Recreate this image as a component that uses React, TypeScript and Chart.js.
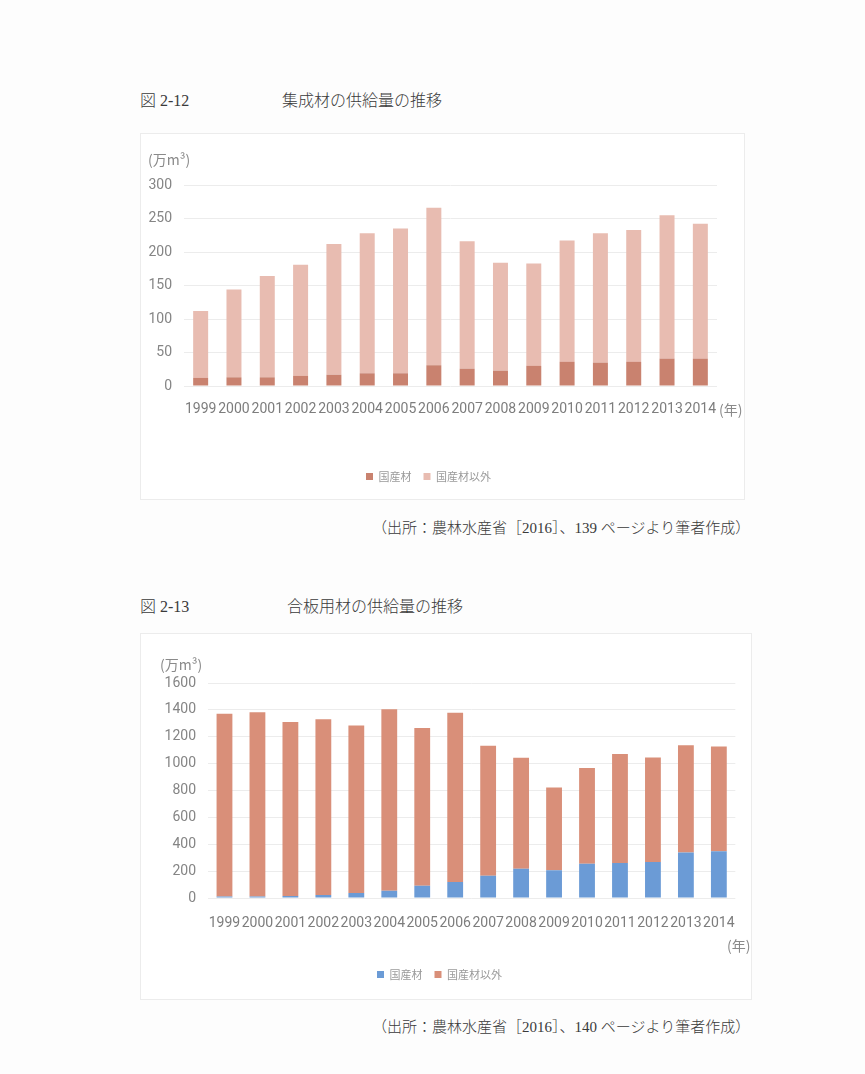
import React, { useEffect, useRef } from "react";
import Chart from "chart.js/auto";

// ---- data ----
const years = ["1999", "2000", "2001", "2002", "2003", "2004", "2005", "2006", "2007", "2008", "2009", "2010", "2011", "2012", "2013", "2014"];

// 図2-12 集成材 (万m³)
const gluDomestic = [12, 13, 13, 15, 17, 19, 19, 31, 26, 23, 30, 36, 35, 36, 41, 41];
const gluOther = [100, 131, 151, 166, 195, 209, 216, 235, 190, 161, 153, 181, 193, 197, 214, 201];
const gluMax = 300;
const gluStep = 50;

// 図2-13 合板用材 (万m³)
const plyDomestic = [12, 12, 15, 22, 37, 54, 91, 120, 166, 217, 207, 254, 260, 268, 338, 348];
const plyOther = [1359, 1371, 1295, 1308, 1246, 1351, 1175, 1258, 967, 826, 615, 714, 812, 778, 799, 780];
const plyMax = 1600;
const plyStep = 200;

const seriesNames = ["国産材", "国産材以外"];

const TICK_FONT = "Roboto, 'Noto Sans CJK JP', sans-serif";
const CJK = "'Noto Sans CJK JP', sans-serif";
const SERIF = "'Liberation Serif', 'Noto Sans CJK JP', serif";

type Cfg = {
  left: number;
  top: number;
  width: number;
  height: number;
  domestic: number[];
  other: number[];
  colors: [string, string];
  max: number;
  step: number;
  yAxisWidth: number;
  yPad: number;
  padTop: number;
  padRight: number;
  padBottom: number;
  xAxisHeight: number;
  xPad: number;
  barPct: number;
};

function BarChart({ cfg }: { cfg: Cfg }) {
  const ref = useRef<HTMLCanvasElement>(null);
  useEffect(() => {
    const chart = new Chart(ref.current as HTMLCanvasElement, {
      type: "bar",
      data: {
        labels: years,
        datasets: [
          {
            label: seriesNames[0],
            data: cfg.domestic,
            backgroundColor: cfg.colors[0],
            categoryPercentage: 1,
            barPercentage: cfg.barPct,
          },
          {
            label: seriesNames[1],
            data: cfg.other,
            backgroundColor: cfg.colors[1],
            categoryPercentage: 1,
            barPercentage: cfg.barPct,
          },
        ],
      },
      options: {
        responsive: false,
        animation: false,
        layout: {
          padding: { top: cfg.padTop, right: cfg.padRight, bottom: cfg.padBottom, left: 0 },
        },
        plugins: {
          tooltip: { enabled: false },
          legend: {
            position: "bottom",
            labels: {
              boxWidth: 7,
              boxHeight: 7,
              padding: 12,
              color: "#9a9a9a",
              font: { family: CJK, size: 11 },
            },
          },
        },
        scales: {
          x: {
            stacked: true,
            grid: { display: false, drawTicks: false },
            border: { display: false },
            ticks: {
              autoSkip: false,
              maxRotation: 0,
              minRotation: 0,
              padding: cfg.xPad,
              color: "#7d7d7d",
              font: { family: TICK_FONT, size: 14 },
            },
            afterFit: (axis: any) => {
              axis.height = cfg.xAxisHeight;
            },
          },
          y: {
            stacked: true,
            min: 0,
            max: cfg.max,
            ticks: {
              stepSize: cfg.step,
              padding: cfg.yPad,
              color: "#858585",
              font: { family: TICK_FONT, size: 14 },
              callback: (v: any) => String(v),
            },
            grid: { color: "#ececec", drawTicks: false },
            border: { display: false },
            afterFit: (axis: any) => {
              axis.width = cfg.yAxisWidth;
            },
          },
        },
      },
    });
    return () => chart.destroy();
  }, []);
  return (
    <canvas
      ref={ref}
      width={cfg.width}
      height={cfg.height}
      style={{ position: "absolute", left: cfg.left, top: cfg.top, width: cfg.width, height: cfg.height }}
    />
  );
}

const text = (
  s: string,
  left: number,
  top: number,
  size: number,
  family: string,
  color: string,
  extra: React.CSSProperties = {}
) => (
  <div
    style={{
      position: "absolute",
      left,
      top,
      fontSize: size,
      lineHeight: `${size + 4}px`,
      fontFamily: family,
      color,
      whiteSpace: "nowrap",
      ...extra,
    }}
  >
    {s}
  </div>
);

const chart1: Cfg = {
  left: 140,
  top: 133,
  width: 605,
  height: 367,
  domestic: gluDomestic,
  other: gluOther,
  colors: ["#c9826f", "#e8bcb1"],
  max: gluMax,
  step: gluStep,
  yAxisWidth: 44,
  yPad: 12,
  padTop: 52,
  padRight: 28,
  padBottom: 8,
  xAxisHeight: 73,
  xPad: 15,
  barPct: 0.45,
};

const chart2: Cfg = {
  left: 140,
  top: 633,
  width: 612,
  height: 367,
  domestic: plyDomestic,
  other: plyOther,
  colors: ["#6b9bd6", "#d98f79"],
  max: plyMax,
  step: plyStep,
  yAxisWidth: 68,
  yPad: 12,
  padTop: 50,
  padRight: 13,
  padBottom: 10,
  xAxisHeight: 59,
  xPad: 17,
  barPct: 0.48,
};

const titleStyle: React.CSSProperties = { fontWeight: 300 };

export default function App() {
  return (
    <div
      style={{
        position: "absolute",
        left: 0,
        top: 0,
        width: 865,
        height: 1074,
        overflow: "hidden",
        background: "#fdfdfd",
      }}
    >
      {text("図 2-12", 140, 91, 16, SERIF, "#3a3a3a", titleStyle)}
      {text("集成材の供給量の推移", 282, 91, 16, SERIF, "#3a3a3a", titleStyle)}
      <div
        style={{
          position: "absolute",
          left: 140,
          top: 133,
          width: 605,
          height: 367,
          border: "1px solid #ececec",
          boxSizing: "border-box",
          background: "#fff",
        }}
      />
      <BarChart cfg={chart1} />
      {text("(万m³)", 148, 150, 14, CJK, "#8a8a8a")}
      {text("(年)", 719, 400, 14, CJK, "#8a8a8a")}
      {text("（出所：農林水産省［2016］、139 ページより筆者作成）", 372, 519, 15, SERIF, "#3a3a3a", titleStyle)}

      {text("図 2-13", 140, 597, 16, SERIF, "#3a3a3a", titleStyle)}
      {text("合板用材の供給量の推移", 287, 597, 16, SERIF, "#3a3a3a", titleStyle)}
      <div
        style={{
          position: "absolute",
          left: 140,
          top: 633,
          width: 612,
          height: 367,
          border: "1px solid #ececec",
          boxSizing: "border-box",
          background: "#fff",
        }}
      />
      <BarChart cfg={chart2} />
      {text("(万m³)", 160, 655, 14, CJK, "#8a8a8a")}
      {text("(年)", 727, 936, 14, CJK, "#8a8a8a")}
      {text("（出所：農林水産省［2016］、140 ページより筆者作成）", 372, 1018, 15, SERIF, "#3a3a3a", titleStyle)}
    </div>
  );
}
